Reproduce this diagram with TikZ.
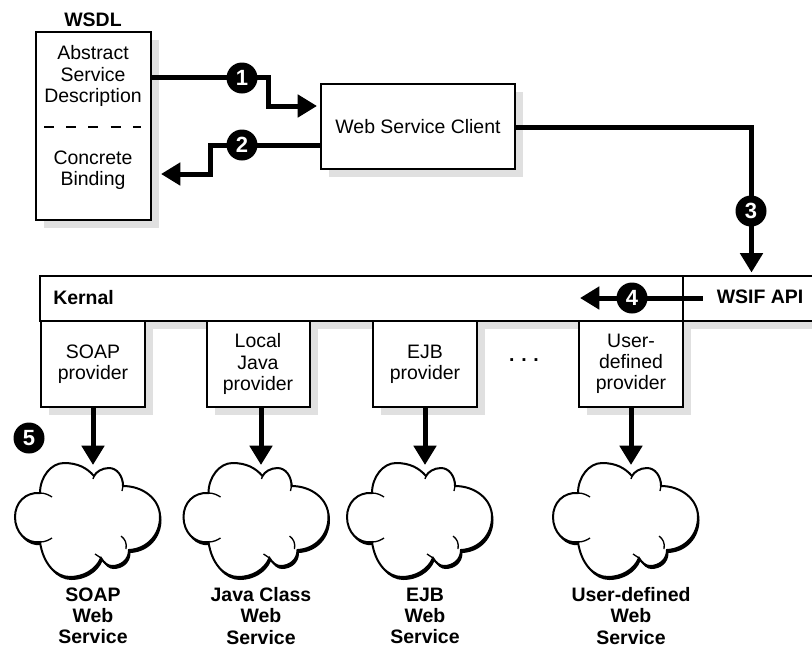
\documentclass[tikz,border=0pt]{standalone}
\usepackage{fontspec}
\setmainfont{Liberation Sans}
\usetikzlibrary{arrows.meta,shadows}

\def\px{.75pt}

\begin{document}
\begin{tikzpicture}[x=\px,y=-\px]

\tikzstyle{base} = [font=\fontsize{14.6}{15.8}\selectfont, align=center, inner sep=0pt];
\tikzstyle{block} = [
	base, draw, fill=white, rectangle, line width=1.5pt,
	drop shadow={shadow xshift=6pt,shadow yshift=-6pt,fill=black!12,opacity=1} ];
\tikzstyle{plain} = [base, font=\fontsize{14.6}{15.8}\selectfont\bfseries];
\tikzstyle{badge} = [
	circle, fill=black, text=white, inner sep=0pt, minimum size=31*\px,
	font=\fontsize{16.5}{16.5}\selectfont\bfseries ];
\tikzstyle{flow} = [line width=3.75pt, -{Triangle[length=14.5pt,width=16.5pt]}];
\tikzstyle{drop} = [flow];
\tikzset{
	webcloud/.pic={
		\def\outline{(-53,28) .. controls (-68,27) and (-78,38) .. (-78,52)
			.. controls (-78,67) and (-67,79) .. (-53,77)
			.. controls (-50,98) and (-38,112) .. (-23,112)
			.. controls (-10,112) and (3,105) .. (8,93)
			.. controls (11,98) and (15,101) .. (19,101)
			.. controls (28,101) and (36,95) .. (36,85)
			.. controls (54,84) and (67,70) .. (67,52)
			.. controls (67,34) and (50,21) .. (30,21)
			.. controls (30,11) and (24,3) .. (16,3)
			.. controls (9,3) and (3,7) .. (1,11)
			.. controls (-6,3) and (-15,-2) .. (-29,-2)
			.. controls (-42,-2) and (-53,12) .. (-53,28) -- cycle}
		\fill[black,shift={(1.5,3)}] \outline;
		\draw[fill=white,line width=1.5pt] \outline;
		\draw[line width=1pt] (-53,28) .. controls (-48,28) and (-44,30) .. (-41,32);
		\draw[line width=1pt] (-53,77) .. controls (-48,77) and (-44,75) .. (-41,73);
		\draw[line width=1pt] (1,11) -- (0,14);
		\draw[line width=1pt] (30,21) -- (29,26);
		\draw[line width=1pt] (28,71) .. controls (32,74) and (34,78) .. (33,84);
		\draw[line width=1pt] (8,93) -- (2,89);
	}
}
\useasboundingbox (0,0) rectangle (812,647);

% wsdl document
\node[plain] (title) at (93,20) {WSDL};
\node[block,minimum width=115*\px,minimum height=188*\px] (wsdl) at (93.5,126) {};
\node[base] (abstract) at (93,76) {Abstract\\Service\\Description};
\node[base] (concrete) at (93,170) {Concrete\\Binding};
\coordinate (d1) at (44,127);
\coordinate (d2) at (141,127);
\draw[line width=1.5pt,dash pattern=on 10*\px off 12.2*\px] (d1) -- (d2);

\node[block,minimum width=194*\px,minimum height=85*\px] (client) at (418,126.5) {Web Service Client};

% kernal bar and providers
\node[block,minimum width=776*\px,minimum height=45.5*\px] (bar) at (428,298.5) {};
\node[plain,anchor=west] (kernal) at (53,298) {Kernal};
\node[plain] (api) at (760,297) {WSIF API};
\coordinate (v1) at (683,276);
\draw[line width=1.5pt] (v1) -- (v1 |- bar.south);

\node[block,minimum width=104.5*\px,minimum height=86*\px] (p1) at (93,364) {SOAP\\provider};
\node[block,minimum width=103*\px,minimum height=86*\px] (p2) at (258,364) {Local\\Java\\provider};
\node[block,minimum width=104*\px,minimum height=86*\px] (p3) at (425,364) {EJB\\provider};
\node[block,minimum width=104*\px,minimum height=86*\px] (p4) at (631,364) {User-\\defined\\provider};
\node[plain] (dots) at (524,360) {.\hspace{5pt}.\hspace{5pt}.};

% clouds
\pic at (93,465) {webcloud};
\pic at (261.5,465) {webcloud};
\pic at (425,465) {webcloud};
\pic at (631,465) {webcloud};
\coordinate (c1) at (93,465);
\coordinate (c2) at (261,465);
\coordinate (c3) at (425,465);
\coordinate (c4) at (631,465);
\draw[drop] (c1 |- p1.south) -- (c1);
\draw[drop] (c2 |- p2.south) -- (c2);
\draw[drop] (c3 |- p3.south) -- (c3);
\draw[drop] (c4 |- p4.south) -- (c4);

\node[plain] (s1) at (93,616) {SOAP\\Web\\Service};
\node[plain] (s2) at (261,616) {Java Class\\Web\\Service};
\node[plain] (s3) at (425,616) {EJB\\Web\\Service};
\node[plain] (s4) at (631,616) {User-defined\\Web\\Service};

% numbered flows
\coordinate (j1) at (268,106);
\coordinate (t1) at (317,106);
\draw[flow] (wsdl.east |- 0,77.5) -| (j1) -- (t1);
\coordinate (j2) at (210,174);
\coordinate (t2) at (161,174);
\draw[flow] (client.west |- 0,145) -| (j2) -- (t2);
\coordinate (j3) at (751.5,127);
\coordinate (t3) at (751.5,272.5);
\draw[flow] (client.east |- j3) -- (j3) -- (t3);
\coordinate (j4) at (702.5,298);
\coordinate (t4) at (580,298);
\draw[flow] (j4) -- (t4);

\node[badge] (b1) at (242,78) {1};
\node[badge] (b2) at (242,145) {2};
\node[badge] (b3) at (751,211) {3};
\node[badge] (b4) at (632,298) {4};
\node[badge] (b5) at (29,438) {5};

\end{tikzpicture}
\end{document}
